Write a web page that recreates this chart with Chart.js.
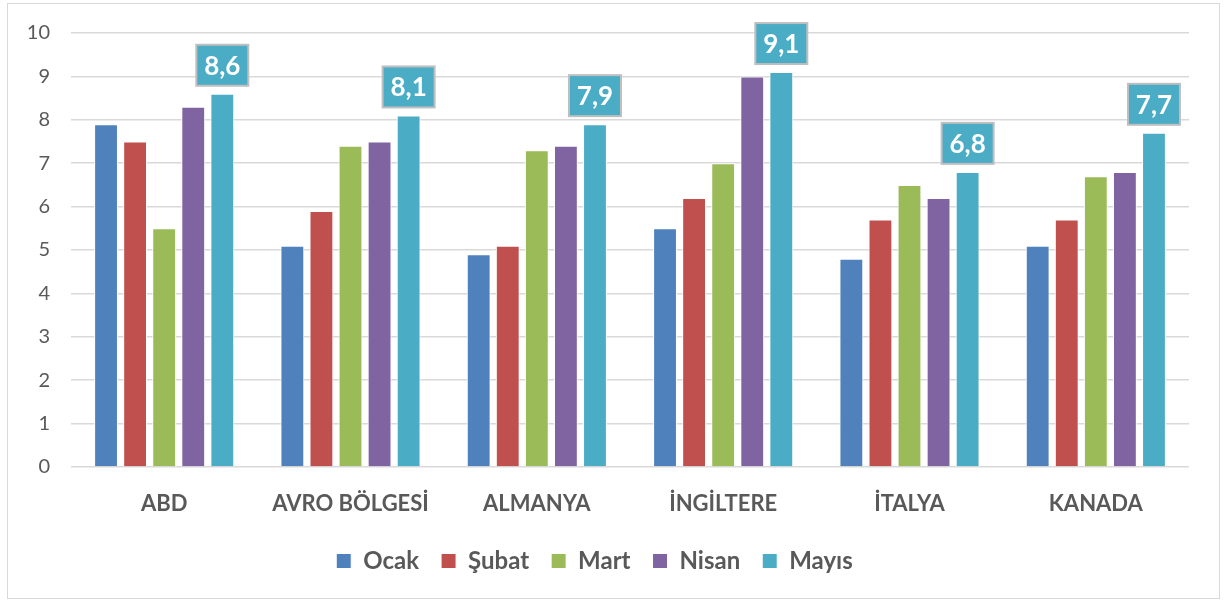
<!DOCTYPE html>
<html lang="tr">
  <head>
    <meta charset="UTF-8" />
    <title>Ülkelere göre aylık değerler</title>
    <script src="https://cdn.jsdelivr.net/npm/chart.js"></script>
    <style>
      body {
        margin: 0;
        padding: 0;
        background: #fff;
        font-family: "Lato", sans-serif;
      }
      .frame {
        position: absolute;
        left: 7px;
        top: 3px;
        width: 1211px;
        height: 594px;
        border: 1.5px solid #d9d9d9;
        pointer-events: none;
      }
      .wrap {
        position: absolute;
        left: 0;
        top: 0;
        width: 1227px;
        height: 603px;
      }
    </style>
  </head>
  <body>
    <div class="wrap"><canvas id="chart"></canvas></div>
    <div class="frame"></div>

    <script>
      const countries = ["ABD", "AVRO BÖLGESİ", "ALMANYA", "İNGİLTERE", "İTALYA", "KANADA"];
      const ocak = [7.9, 5.1, 4.9, 5.5, 4.8, 5.1];
      const subat = [7.5, 5.9, 5.1, 6.2, 5.7, 5.7];
      const mart = [5.5, 7.4, 7.3, 7.0, 6.5, 6.7];
      const nisan = [8.3, 7.5, 7.4, 9.0, 6.2, 6.8];
      const mayis = [8.6, 8.1, 7.9, 9.1, 6.8, 7.7];
      const yTicks = [0, 1, 2, 3, 4, 5, 6, 7, 8, 9, 10];

      const textGray = "#595959";

      // value boxes above the last series only
      const mayisLabels = {
        id: "mayisLabels",
        afterDatasetsDraw(chart) {
          const ctx = chart.ctx;
          const meta = chart.getDatasetMeta(4);
          ctx.save();
          ctx.font = "bold 26px Lato";
          ctx.textAlign = "center";
          ctx.textBaseline = "middle";
          meta.data.forEach((bar, i) => {
            const w = 52, h = 41;
            const x = bar.x - w / 2;
            const y = bar.y - 8 - h;
            ctx.fillStyle = "#4bacc6";
            ctx.fillRect(x, y, w, h);
            ctx.strokeStyle = "#bfbfbf";
            ctx.lineWidth = 2;
            ctx.strokeRect(x, y, w, h);
            ctx.fillStyle = "#fff";
            ctx.fillText(mayis[i].toFixed(1).replace(".", ","), bar.x, y + h / 2 + 1);
          });
          ctx.restore();
        },
      };

      function ds(label, data, color) {
        return {
          label: label,
          data: data,
          backgroundColor: color,
          borderColor: "#ffffff",
          borderWidth: 1,
          categoryPercentage: 0.78,
          barPercentage: 0.82,
        };
      }

      new Chart(document.getElementById("chart"), {
        type: "bar",
        data: {
          labels: countries,
          datasets: [
            ds("Ocak", ocak, "#4f81bd"),
            ds("Şubat", subat, "#c0504d"),
            ds("Mart", mart, "#9bbb59"),
            ds("Nisan", nisan, "#8064a2"),
            ds("Mayıs", mayis, "#4bacc6"),
          ],
        },
        options: {
          responsive: true,
          maintainAspectRatio: false,
          animation: false,
          layout: { padding: { top: 22, right: 38, bottom: 20, left: 0 } },
          plugins: {
            tooltip: { enabled: false },
            legend: {
              position: "bottom",
              labels: {
                boxWidth: 15,
                boxHeight: 15,
                padding: 22,
                color: textGray,
                font: { family: "Lato", size: 24, weight: "bold" },
              },
            },
          },
          scales: {
            x: {
              grid: { display: false },
              border: { display: false },
              afterFit: (scale) => {
                scale.height = 60;
              },
              ticks: {
                color: textGray,
                padding: 16,
                font: { family: "Lato", size: 22, weight: "bold" },
              },
            },
            y: {
              min: 0,
              max: 10,
              afterBuildTicks: (scale) => {
                scale.ticks = yTicks.map((v) => ({ value: v }));
              },
              afterFit: (scale) => {
                scale.width = 71;
              },
              grid: { color: "#d9d9d9", lineWidth: 1.5, drawTicks: false },
              border: { display: false },
              ticks: {
                color: textGray,
                padding: 21,
                font: { family: "Lato", size: 20 },
              },
            },
          },
        },
        plugins: [mayisLabels],
      });
    </script>
  </body>
</html>
